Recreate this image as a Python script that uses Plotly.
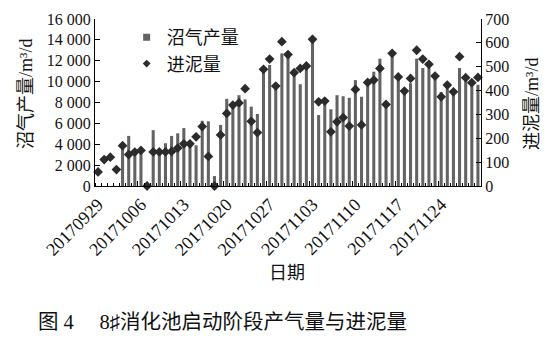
import pandas as pd
import plotly.graph_objects as go

# Daily records of digester No. 8 during start-up
dates = pd.date_range("2017-09-29", "2017-11-30", freq="D")

biogas = [0, 0, 0, 0, 4100, 4800, 3400, 3650, 0, 5350,
          3300, 4100, 4800, 5050, 5550, 4000, 3900, 6250, 6200, 950,
          5850, 8350, 7900, 8700, 8300, 7600, 6900, 11350, 11600, 9800,
          12700, 12900, 10900, 9750, 11600, 14400, 6800, 8150, 7350, 8700,
          8600, 8450, 10150, 8550, 10050, 10950, 12200, 8000, 12800, 10600,
          9200, 9850, 12200, 11300, 11300, 10300, 9000, 9350, 9200, 11300,
          10300, 10000, 9700]

sludge = [59, 111, 121, 69, 169, 132, 142, 149, 0, 143,
          143, 143, 145, 159, 177, 177, 206, 249, 124, 0,
          214, 304, 339, 348, 408, 271, 224, 489, 532, 419,
          605, 551, 475, 493, 503, 615, 353, 356, 227, 269,
          287, 251, 405, 256, 434, 444, 493, 342, 556, 457,
          398, 451, 569, 532, 510, 461, 374, 423, 395, 542,
          454, 433, 455]

tick_dates = dates[::7]
tick_labels = ["20170929", "20171006", "20171013", "20171020", "20171027",
               "20171103", "20171110", "20171117", "20171124"]

series_names = ["沼气产量", "进泥量"]

FONT = "Liberation Serif, Noto Sans CJK SC, serif"
BAR_COLOR = "#636363"
DOT_COLOR = "#2b2b2b"
TEXT_COLOR = "#111111"
DAY = 86400000
half = pd.Timedelta(hours=12)
x_range = [dates[0] - half, dates[-1] + half]

fig = go.Figure()

fig.add_trace(go.Bar(
    x=dates, y=biogas, width=DAY * 0.5,
    marker=dict(color=BAR_COLOR, line=dict(width=0)),
    name=series_names[0], showlegend=False, legendgroup="gas",
    xaxis="x", yaxis="y",
))
fig.add_trace(go.Scatter(
    x=dates, y=sludge, mode="markers",
    marker=dict(symbol="diamond", size=7.5, color=DOT_COLOR),
    cliponaxis=False,
    name=series_names[1], showlegend=False, legendgroup="sludge",
    xaxis="x2", yaxis="y2",
))

# legend entries with small symbols
fig.add_trace(go.Scatter(
    x=[None], y=[None], mode="markers",
    marker=dict(symbol="square", size=7, color=BAR_COLOR),
    name=series_names[0], legendgroup="gas",
))
fig.add_trace(go.Scatter(
    x=[None], y=[None], mode="markers",
    marker=dict(symbol="diamond", size=6, color=DOT_COLOR),
    name=series_names[1], legendgroup="sludge",
))

fig.update_layout(
    width=554, height=340,
    margin=dict(l=95, r=73, t=19, b=154, pad=0),
    paper_bgcolor="white", plot_bgcolor="white",
    font=dict(family=FONT, size=16, color=TEXT_COLOR),
    separators=". ",
    bargap=0.5,
    xaxis=dict(
        type="date", range=x_range,
        tickmode="array", tickvals=tick_dates, ticktext=tick_labels,
        tickangle=-45, ticks="", showgrid=False, zeroline=False,
        showline=True, linecolor="black", linewidth=1,
        tickfont=dict(size=18),
        minor=dict(ticks="inside", ticklen=3, tickcolor="black",
                   dtick=DAY, tick0="2017-09-28 12:00", showgrid=False),
    ),
    xaxis2=dict(
        type="date", range=x_range, overlaying="x", anchor="y2",
        tickmode="linear", tick0="2017-10-05 12:00", dtick=7 * DAY,
        ticks="inside", ticklen=5, tickcolor="black",
        showticklabels=False, showline=False, showgrid=False, zeroline=False,
    ),
    yaxis=dict(
        range=[0, 16000], tickmode="linear", tick0=0, dtick=2000,
        tickformat=",d", ticks="inside", ticklen=5, tickcolor="black",
        showline=True, linecolor="black", linewidth=1,
        showgrid=False, zeroline=False, tickfont=dict(size=16),
    ),
    yaxis2=dict(
        range=[0, 700], tickmode="linear", tick0=0, dtick=100,
        overlaying="y", side="right", anchor="x2",
        ticks="inside", ticklen=5, tickcolor="black",
        showline=True, linecolor="black", linewidth=1,
        showgrid=False, zeroline=False, tickfont=dict(size=16),
    ),
    legend=dict(
        x=0.082, y=1.0, xanchor="left", yanchor="top",
        bgcolor="rgba(0,0,0,0)", font=dict(size=18),
        itemwidth=30, tracegroupgap=0,
    ),
)

annotations = [
    dict(text="沼气产量/m³/d", x=-0.179, y=0.551, textangle=-90,
         font=dict(size=18, color=TEXT_COLOR)),
    dict(text="进泥量/m³/d", x=1.132, y=0.491, textangle=-90,
         font=dict(size=18, color=TEXT_COLOR)),
    dict(text="日期", x=0.497, y=-0.521, font=dict(size=18, color=TEXT_COLOR)),
    dict(text="图 4\u00a0\u00a0\u00a0\u00a0\u00a08♯消化池启动阶段产气量与进泥量",
         x=-0.152, y=-0.814, xanchor="left",
         font=dict(size=20.5, color=TEXT_COLOR)),
]
for a in annotations:
    a.update(xref="paper", yref="paper", showarrow=False)
    a.setdefault("xanchor", "center")
    a.setdefault("yanchor", "middle")
    fig.add_annotation(**a)

fig.write_html("out.html")
